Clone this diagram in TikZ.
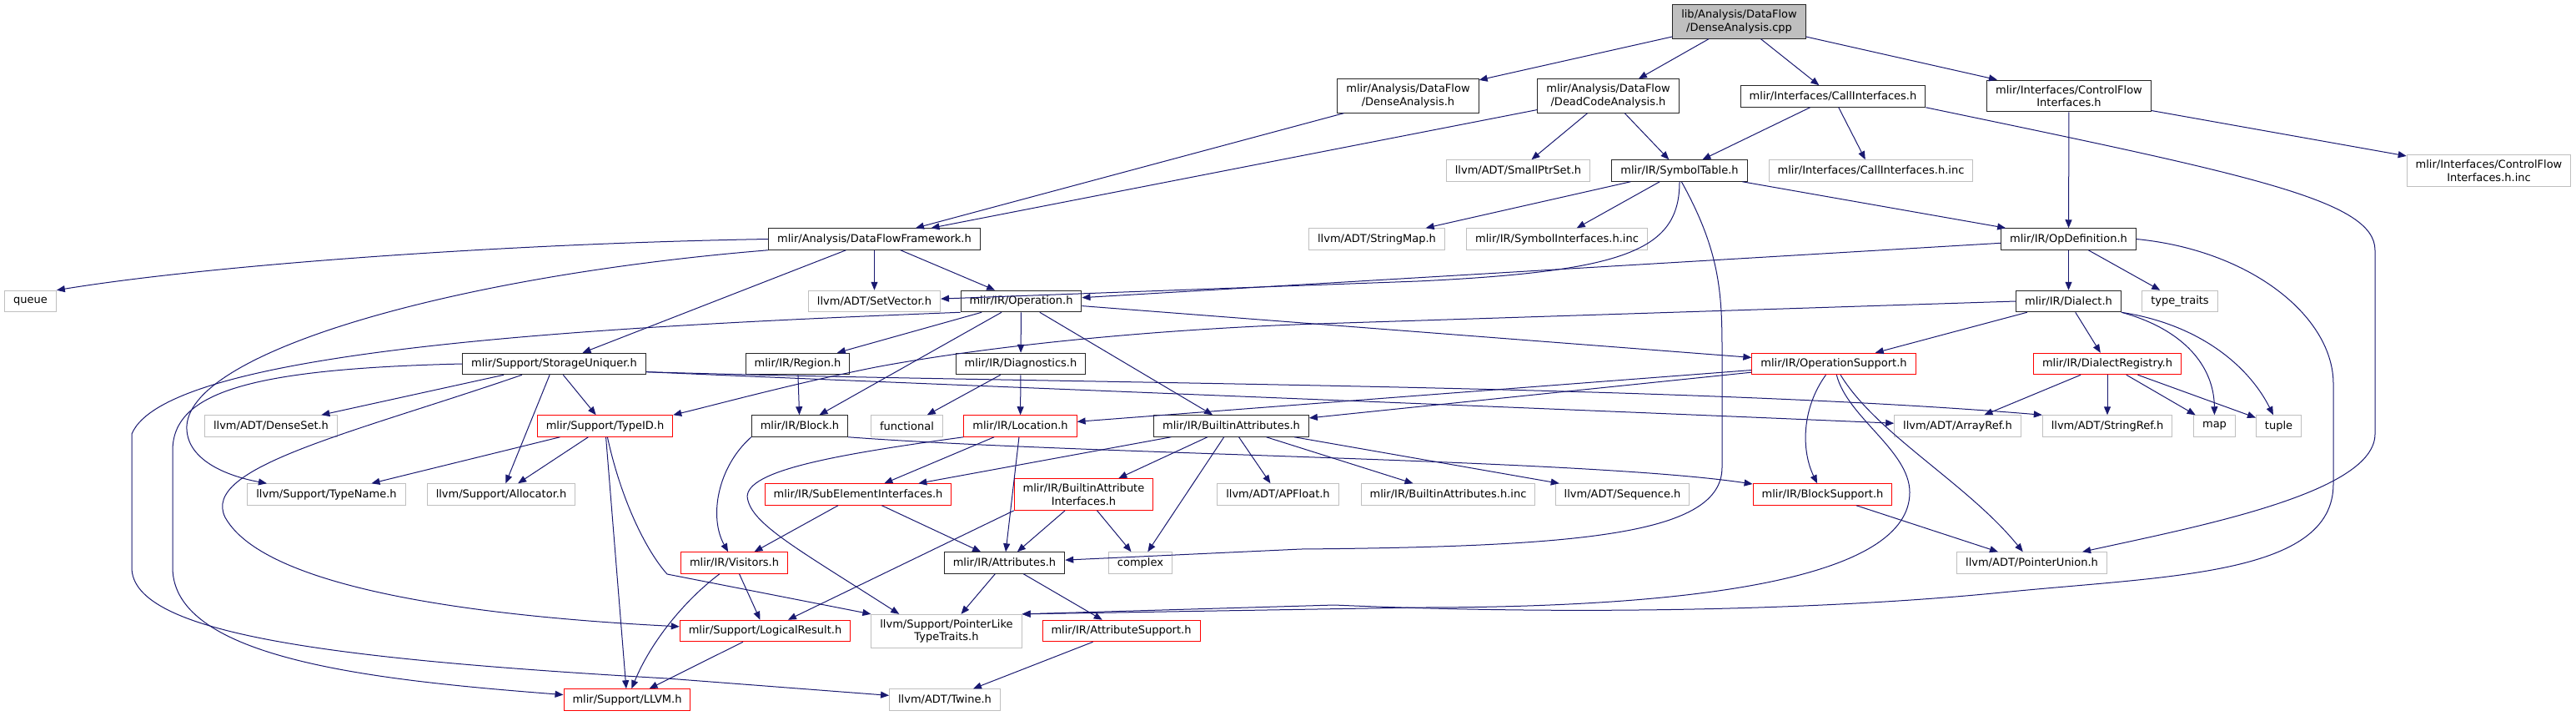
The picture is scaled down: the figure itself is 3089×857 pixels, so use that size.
\documentclass[tikz,border=0pt]{standalone}
\usepackage{fontspec}
\setmainfont{DejaVu Sans}
\usetikzlibrary{arrows.meta}
\definecolor{edgeblue}{HTML}{191970}
\definecolor{extgray}{HTML}{BFBFBF}
\definecolor{docgray}{HTML}{262626}
\begin{document}
\begin{tikzpicture}[x=.5pt,y=-.5pt,>={Triangle[length=5pt,width=4pt]},line width=.5pt,
  font=\fontsize{6.5}{7.65}\selectfont,
  every node/.style={rectangle,align=center,inner xsep=5.25pt,inner ysep=3.1pt,minimum height=12.75pt},
  doc/.style={draw=docgray},
  ext/.style={draw=extgray},
  trunc/.style={draw=red},
  root/.style={draw=docgray,fill=extgray}]
  \useasboundingbox (0,0) rectangle (3089,857);
  \node[root] (cpp) at (2085.5,26) {lib/Analysis/DataFlow\\/DenseAnalysis.cpp};
  \node[doc] (dense) at (1688.5,115) {mlir/Analysis/DataFlow\\/DenseAnalysis.h};
  \node[doc] (dead) at (1928.5,115) {mlir/Analysis/DataFlow\\/DeadCodeAnalysis.h};
  \node[doc] (callif) at (2198,115.5) {mlir/Interfaces/CallInterfaces.h};
  \node[doc] (cfif) at (2481,115) {mlir/Interfaces/ControlFlow\\Interfaces.h};
  \node[ext] (cfinc) at (2984.5,204.5) {mlir/Interfaces/ControlFlow\\Interfaces.h.inc};
  \node[ext] (smallptr) at (1820.5,204.5) {llvm/ADT/SmallPtrSet.h};
  \node[doc] (symtab) at (2014,204.5) {mlir/IR/SymbolTable.h};
  \node[ext] (callinc) at (2243.5,204.5) {mlir/Interfaces/CallInterfaces.h.inc};
  \node[ext] (strmap) at (1651,286.5) {llvm/ADT/StringMap.h};
  \node[ext] (syminc) at (1867,286.5) {mlir/IR/SymbolInterfaces.h.inc};
  \node[doc] (dfw) at (1048.5,286.5) {mlir/Analysis/DataFlowFramework.h};
  \node[doc] (opdef) at (2480.5,286.5) {mlir/IR/OpDefinition.h};
  \node[ext] (queue) at (36.5,361) {queue};
  \node[ext] (setvec) at (1048.5,361) {llvm/ADT/SetVector.h};
  \node[doc] (oper) at (1224.5,361) {mlir/IR/Operation.h};
  \node[doc] (dialect) at (2480.5,361) {mlir/IR/Dialect.h};
  \node[ext] (traits) at (2614,361) {type\_traits};
  \node[doc] (storage) at (664.5,436) {mlir/Support/StorageUniquer.h};
  \node[doc] (region) at (956.5,436) {mlir/IR/Region.h};
  \node[doc] (diag) at (1224,436) {mlir/IR/Diagnostics.h};
  \node[trunc] (opsup) at (2199,436) {mlir/IR/OperationSupport.h};
  \node[trunc] (registry) at (2527,436) {mlir/IR/DialectRegistry.h};
  \node[ext] (denseset) at (325,510.5) {llvm/ADT/DenseSet.h};
  \node[trunc] (typeid) at (725.5,510.5) {mlir/Support/TypeID.h};
  \node[doc] (block) at (959,510.5) {mlir/IR/Block.h};
  \node[ext] (functional) at (1087.5,510.5) {functional};
  \node[trunc] (location) at (1223.5,510.5) {mlir/IR/Location.h};
  \node[doc] (battr) at (1476.5,510.5) {mlir/IR/BuiltinAttributes.h};
  \node[ext] (arrayref) at (2347.5,510.5) {llvm/ADT/ArrayRef.h};
  \node[ext] (stringref) at (2527,510.5) {llvm/ADT/StringRef.h};
  \node[ext] (map) at (2655.5,510.5) {map};
  \node[ext] (tuple) at (2732.5,510.5) {tuple};
  \node[ext] (typename) at (391.5,592.5) {llvm/Support/TypeName.h};
  \node[ext] (alloc) at (601,592.5) {llvm/Support/Allocator.h};
  \node[trunc] (subelem) at (1029,592.5) {mlir/IR/SubElementInterfaces.h};
  \node[trunc] (battrif) at (1299.5,592.5) {mlir/IR/BuiltinAttribute\\Interfaces.h};
  \node[ext] (apfloat) at (1532.5,592.5) {llvm/ADT/APFloat.h};
  \node[ext] (battrinc) at (1736.5,592.5) {mlir/IR/BuiltinAttributes.h.inc};
  \node[ext] (sequence) at (1945.5,592.5) {llvm/ADT/Sequence.h};
  \node[trunc] (blocksup) at (2185.5,592.5) {mlir/IR/BlockSupport.h};
  \node[trunc] (visitors) at (880.5,674.5) {mlir/IR/Visitors.h};
  \node[doc] (attrs) at (1204.5,674.5) {mlir/IR/Attributes.h};
  \node[ext] (complex) at (1367.5,674.5) {complex};
  \node[ext] (ptrunion) at (2436.5,674.5) {llvm/ADT/PointerUnion.h};
  \node[trunc] (logical) at (917.5,756) {mlir/Support/LogicalResult.h};
  \node[ext] (ptrlike) at (1135,756.5) {llvm/Support/PointerLike\\TypeTraits.h};
  \node[trunc] (attrsup) at (1344.5,756) {mlir/IR/AttributeSupport.h};
  \node[trunc] (llvm) at (752,838.5) {mlir/Support/LLVM.h};
  \node[ext] (twine) at (1133,838.5) {llvm/ADT/Twine.h};
  \begin{scope}[color=edgeblue]
  \draw[->] (cpp) -- (dense);
  \draw[->] (cpp) -- (dead);
  \draw[->] (cpp) -- (callif);
  \draw[->] (cpp) -- (cfif);
  \draw[->] (dense) -- (dfw);
  \draw[->] (dead) -- (dfw);
  \draw[->] (dead) -- (smallptr);
  \draw[->] (dead) -- (symtab);
  \draw[->] (callif) -- (symtab);
  \draw[->] (callif) -- (callinc);
  \draw[->] (callif.south east) .. controls (2700,210) and (2848,240) .. (2848,300) -- (2848,520) .. controls (2848,590) and (2640,630) .. (ptrunion);
  \draw[->] (cfif) -- (opdef);
  \draw[->] (cfif) -- (cfinc);
  \draw[->] (symtab) -- (strmap);
  \draw[->] (symtab) -- (syminc);
  \draw[->] (symtab) -- (opdef);
  \draw[->] (symtab) .. controls (2014,300) and (1950,325) .. (1700,337) -- (setvec);
  \draw[->] (symtab.-80) .. controls (2062,300) and (2065,350) .. (2065,420) -- (2065,560) .. controls (2065,640) and (1900,655) .. (1560,658) -- (attrs);
  \draw[->] (opdef) -- (oper);
  \draw[->] (opdef) -- (dialect);
  \draw[->] (opdef) -- (traits);
  \draw[->] (opdef.east) .. controls (2700,300) and (2798,380) .. (2798,460) -- (2798,580) .. controls (2798,690) and (2600,690) .. (2400,710) .. controls (2200,730) and (1900,738) .. (1600,725) -- (ptrlike.north east);
  \draw[->] (opsup) .. controls (2215,500) and (2290,540) .. (2290,590) .. controls (2290,690) and (2050,728) .. (1700,728) -- (ptrlike.north east);
  \draw[->] (opsup) .. controls (2250,520) and (2360,580) .. (ptrunion);
  \draw[->] (opsup) .. controls (2160,490) and (2160,540) .. (blocksup);
  \draw[->] (opsup) -- (location);
  \draw[->] (opsup) -- (battr);
  \draw[->] (blocksup) -- (ptrunion);
  \draw[->] (oper) -- (opsup);
  \draw[->] (oper) -- (region);
  \draw[->] (oper) -- (block);
  \draw[->] (oper) -- (diag);
  \draw[->] (oper) -- (battr);
  \draw[->] (oper.south west) .. controls (700,392) and (200,420) .. (158,520) -- (158,680) .. controls (158,760) and (400,790) .. (800,813) -- (twine);
  \draw[->] (dfw.west) .. controls (600,292) and (250,318) .. (queue.north east);
  \draw[->] (dfw.south west) .. controls (550,330) and (230,420) .. (224,510) .. controls (222,550) and (270,570) .. (typename);
  \draw[->] (dfw) -- (storage);
  \draw[->] (dfw) -- (setvec);
  \draw[->] (dfw) -- (oper);
  \draw[->] (storage.west) .. controls (300,442) and (207,470) .. (207,540) -- (207,680) .. controls (207,790) and (450,815) .. (llvm);
  \draw[->] (storage) .. controls (420,520) and (240,560) .. (270,620) .. controls (320,710) and (600,740) .. (logical);
  \draw[->] (storage) -- (denseset);
  \draw[->] (storage) -- (alloc);
  \draw[->] (storage) -- (typeid);
  \draw[->] (storage.-5) .. controls (1150,462) and (1800,487) .. (arrayref);
  \draw[->] (storage.-5) .. controls (1250,460) and (2000,460) .. (stringref.north west);
  \draw[->] (typeid) -- (typename);
  \draw[->] (typeid) -- (alloc);
  \draw[->] (typeid) -- (llvm);
  \draw[->] (typeid) .. controls (745,600) and (775,660) .. (800,688) -- (ptrlike.north west);
  \draw[->] (dialect.west) -- (1580,388) .. controls (1400,394) and (1200,412) .. (1050,440) .. controls (950,460) and (870,482) .. (typeid.north east);
  \draw[->] (dialect) -- (opsup);
  \draw[->] (dialect) -- (registry);
  \draw[->] (dialect.south east) .. controls (2620,395) and (2655,440) .. (map);
  \draw[->] (dialect.south east) .. controls (2645,390) and (2700,445) .. (tuple);
  \draw[->] (registry) -- (arrayref);
  \draw[->] (registry) -- (stringref);
  \draw[->] (registry) -- (map);
  \draw[->] (registry) -- (tuple);
  \draw[->] (region) -- (block);
  \draw[->] (diag) -- (functional);
  \draw[->] (diag) -- (location);
  \draw[->] (location) -- (subelem);
  \draw[->] (location) -- (attrs);
  \draw[->] (location.south west) .. controls (1000,545) and (885,565) .. (897,600) .. controls (905,630) and (960,660) .. (ptrlike.160);
  \draw[->] (block.south west) .. controls (860,560) and (850,620) .. (visitors);
  \draw[->] (block.south east) .. controls (1300,545) and (1900,550) .. (blocksup);
  \draw[->] (battr) -- (subelem);
  \draw[->] (battr) -- (battrif);
  \draw[->] (battr) -- (complex);
  \draw[->] (battr) -- (apfloat);
  \draw[->] (battr) -- (battrinc);
  \draw[->] (battr) -- (sequence);
  \draw[->] (battrif) -- (attrs);
  \draw[->] (battrif) -- (complex);
  \draw[->] (battrif.south west) -- (logical);
  \draw[->] (subelem) -- (visitors);
  \draw[->] (subelem) -- (attrs);
  \draw[->] (visitors) -- (logical);
  \draw[->] (visitors) .. controls (820,720) and (780,770) .. (llvm);
  \draw[->] (attrs) -- (ptrlike);
  \draw[->] (attrs) -- (attrsup);
  \draw[->] (attrsup) -- (twine);
  \draw[->] (logical) -- (llvm);
  \end{scope}
\end{tikzpicture}
\end{document}
